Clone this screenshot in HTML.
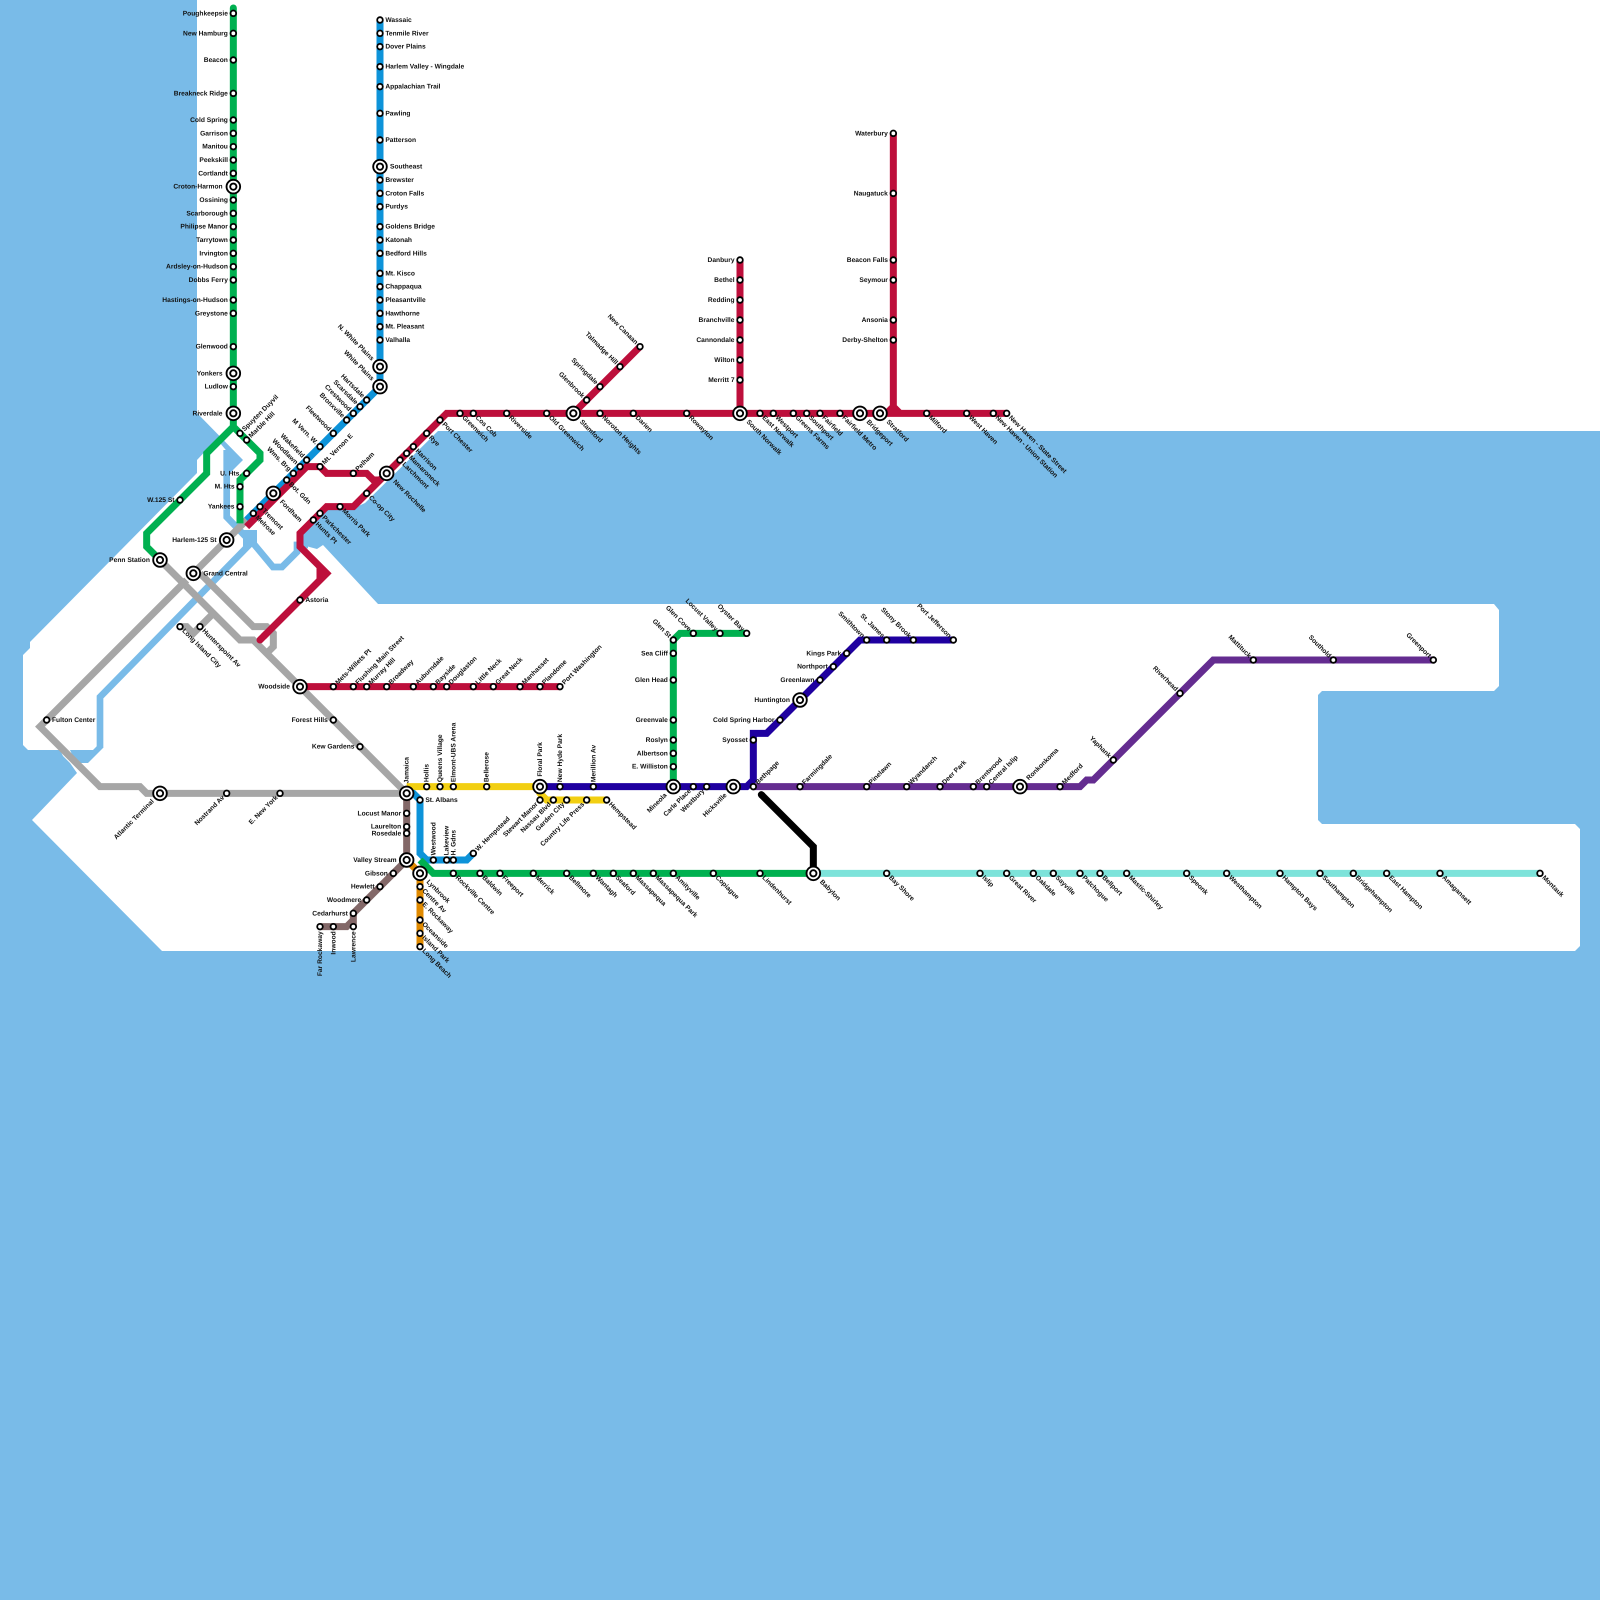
<!DOCTYPE html>
<html><head><meta charset="utf-8"><title>Metro map</title>
<style>
html,body{margin:0;padding:0;background:#79bbe8}
svg{display:block}
text{font-family:"Liberation Sans",sans-serif;font-weight:700;font-size:1px;fill:#111;text-rendering:geometricPrecision}
.e{text-anchor:end}
.ln{fill:none;stroke-width:1.05;stroke-linejoin:miter;stroke-miterlimit:6}
</style></head><body>
<svg xmlns="http://www.w3.org/2000/svg" width="1600" height="1600" viewBox="0 0 240 240">
<defs>
<circle id="s" r=".42" fill="#fff" stroke="#000" stroke-width=".27"/>
<g id="i"><circle r="1.02" fill="#fff" stroke="#000" stroke-width=".28"/><circle r=".47" fill="#fff" stroke="#000" stroke-width=".28"/></g>
</defs>
<rect width="240" height="240" fill="#79bbe8"/>
<g transform="scale(.15)">
<polygon fill="#fff" points="197,0 1600,0 1600,431 438,431 365,503 352,509 323,509 300,533 302,545 317,549 323,545 378,604 1494,604 1499,610 1499,686 1494,691 1322,691 1318,695 1318,820 1322,824 1575,824 1580,829 1580,946 1575,951 162,951 32,820 77,773 70,763 63,756 60,750 28,750 23,745 23,655 30,648 30,642 197,473 197,460 213,443 220,443 230,455 230,473 243,460 197,413"/>
<polygon fill="#79bbe8" points="70,750 93,750 97,746 103,748 88,763 76,763"/>
<polygon fill="#79bbe8" points="243,530 257,530 257,547 243,547"/>
<polyline fill="none" stroke="#79bbe8" stroke-width="6.67" points="100,748 100,697 250,544"/>
<polyline fill="none" stroke="#79bbe8" stroke-width="6.67" points="226.7,450 226.7,517 247,538"/>
<polyline fill="none" stroke="#79bbe8" stroke-width="6.67" points="253,543 273,567 282,567 297,552 297,545 308,545"/>
</g>
<!-- lines -->
<g class="ln">
<path stroke="#a6a6a6" d="M24 84L36 96H38L60 118L61 119M30 86L38 94H40L41 95V97L40 98M27 94H28L29 95L32 92M28 87L6 109L15 118H21L22 119H61M37 78L29 86M27 87L28 88"/>
<path stroke="#836868" d="M61 119V129L53 137V138L52 139H48M53 138V139"/>
<path stroke="#e08a00" d="M61 129L63 131V142"/>
<path stroke="#f2cf12" d="M61 118H81V119L82 120H91"/>
<path stroke="#0d93d9" d="M57 3V58L37 78M61 119H62L63 120V128L64 129H70L71 128"/>
<path stroke="#7de3da" d="M122 131H231"/>
<path stroke="#00b050" stroke-linecap="round" d="M35 1.2V2"/>
<path stroke="#00b050" d="M35 2V64L31 68V71L22 80V82L24 84M35 64L39 68V69L36 72V78.5M63 129L65 131H122M101 118V96L102 95H112"/>
<path stroke="#bd0f3b" d="M151 62H67L53 76H49L45 80V82L48 85L49 86L48 87L39.5 95.5M48 85V87M57 72H56L55 71H49L48 70H46L37 79M96 52L88 60L86 62M111 39V62M134 20V61L135 62M134 61L133 62M45 103H84"/>
<path stroke="#bd0f3b" stroke-linecap="round" d="M40 95L39 96"/>
<path stroke="#1f00a0" d="M81 118H112L113 117V110H115L129 96H143"/>
<path stroke="#642c90" d="M113 118H162L163 117H164L182 99H215"/>
<path stroke="#000" d="M114.2 119.2L122 127V131"/>
<path stroke="#000" stroke-linecap="round" d="M114.2 119.2L114.3 119.3"/>
</g>
<!-- stations -->
<g>
<use href="#s" x="35" y="2"/><use href="#s" x="35" y="5"/><use href="#s" x="35" y="9"/><use href="#s" x="35" y="14"/><use href="#s" x="35" y="18"/><use href="#s" x="35" y="20"/><use href="#s" x="35" y="22"/><use href="#s" x="35" y="24"/><use href="#s" x="35" y="26"/><use href="#i" x="35" y="28"/><use href="#s" x="35" y="30"/><use href="#s" x="35" y="32"/><use href="#s" x="35" y="34"/><use href="#s" x="35" y="36"/><use href="#s" x="35" y="38"/><use href="#s" x="35" y="40"/><use href="#s" x="35" y="42"/><use href="#s" x="35" y="45"/><use href="#s" x="35" y="47"/><use href="#s" x="35" y="52"/><use href="#i" x="35" y="56"/><use href="#s" x="35" y="58"/><use href="#i" x="35" y="62"/>
<use href="#s" x="36" y="65"/><use href="#s" x="37" y="66"/><use href="#s" x="37" y="71"/><use href="#s" x="36" y="73"/><use href="#s" x="36" y="76"/><use href="#s" x="27" y="75"/><use href="#i" x="34" y="81"/><use href="#i" x="24" y="84"/><use href="#i" x="29" y="86"/><use href="#s" x="45" y="90"/><use href="#s" x="27" y="94"/><use href="#s" x="30" y="94"/><use href="#s" x="7" y="108"/><use href="#i" x="45" y="103"/><use href="#s" x="50" y="108"/><use href="#s" x="54" y="112"/><use href="#i" x="24" y="119"/><use href="#s" x="34" y="119"/><use href="#s" x="42" y="119"/><use href="#i" x="61" y="119"/>
<use href="#s" x="57" y="3"/><use href="#s" x="57" y="5"/><use href="#s" x="57" y="7"/><use href="#s" x="57" y="10"/><use href="#s" x="57" y="13"/><use href="#s" x="57" y="17"/><use href="#s" x="57" y="21"/><use href="#i" x="57" y="25"/><use href="#s" x="57" y="27"/><use href="#s" x="57" y="29"/><use href="#s" x="57" y="31"/><use href="#s" x="57" y="34"/><use href="#s" x="57" y="36"/><use href="#s" x="57" y="38"/><use href="#s" x="57" y="41"/><use href="#s" x="57" y="43"/><use href="#s" x="57" y="45"/><use href="#s" x="57" y="47"/><use href="#s" x="57" y="49"/><use href="#s" x="57" y="51"/><use href="#i" x="57" y="55"/><use href="#i" x="57" y="58"/>
<use href="#s" x="55" y="60"/><use href="#s" x="54" y="61"/><use href="#s" x="53" y="62"/><use href="#s" x="52" y="63"/><use href="#s" x="50" y="65"/><use href="#s" x="48" y="67"/><use href="#s" x="46" y="69"/><use href="#s" x="45" y="70"/><use href="#s" x="44" y="71"/><use href="#s" x="43" y="72"/><use href="#i" x="41" y="74"/><use href="#s" x="39" y="76"/><use href="#s" x="38" y="77"/>
<use href="#s" x="48" y="70"/><use href="#s" x="53" y="71"/><use href="#i" x="58" y="71"/><use href="#s" x="55" y="74"/><use href="#s" x="51" y="76"/><use href="#s" x="48" y="77"/><use href="#s" x="47" y="78"/><use href="#s" x="60" y="69"/><use href="#s" x="61" y="68"/><use href="#s" x="62" y="67"/><use href="#s" x="64" y="65"/><use href="#s" x="66" y="63"/><use href="#s" x="69" y="62"/><use href="#s" x="71" y="62"/><use href="#s" x="76" y="62"/><use href="#s" x="82" y="62"/><use href="#i" x="86" y="62"/><use href="#s" x="90" y="62"/><use href="#s" x="95" y="62"/><use href="#s" x="103" y="62"/><use href="#i" x="111" y="62"/><use href="#s" x="114" y="62"/><use href="#s" x="116" y="62"/><use href="#s" x="119" y="62"/><use href="#s" x="121" y="62"/><use href="#s" x="123" y="62"/><use href="#s" x="126" y="62"/><use href="#i" x="129" y="62"/><use href="#i" x="132" y="62"/><use href="#s" x="139" y="62"/><use href="#s" x="145" y="62"/><use href="#s" x="149" y="62"/><use href="#s" x="151" y="62"/>
<use href="#s" x="88" y="60"/><use href="#s" x="90" y="58"/><use href="#s" x="93" y="55"/><use href="#s" x="96" y="52"/>
<use href="#s" x="111" y="39"/><use href="#s" x="111" y="42"/><use href="#s" x="111" y="45"/><use href="#s" x="111" y="48"/><use href="#s" x="111" y="51"/><use href="#s" x="111" y="54"/><use href="#s" x="111" y="57"/>
<use href="#s" x="134" y="20"/><use href="#s" x="134" y="29"/><use href="#s" x="134" y="39"/><use href="#s" x="134" y="42"/><use href="#s" x="134" y="48"/><use href="#s" x="134" y="51"/>
<use href="#s" x="50" y="103"/><use href="#s" x="53" y="103"/><use href="#s" x="55" y="103"/><use href="#s" x="58" y="103"/><use href="#s" x="62" y="103"/><use href="#s" x="65" y="103"/><use href="#s" x="67" y="103"/><use href="#s" x="71" y="103"/><use href="#s" x="74" y="103"/><use href="#s" x="78" y="103"/><use href="#s" x="81" y="103"/><use href="#s" x="84" y="103"/>
<use href="#s" x="64" y="118"/><use href="#s" x="66" y="118"/><use href="#s" x="68" y="118"/><use href="#s" x="73" y="118"/><use href="#i" x="81" y="118"/><use href="#s" x="84" y="118"/><use href="#s" x="89" y="118"/><use href="#i" x="101" y="118"/><use href="#s" x="104" y="118"/><use href="#s" x="106" y="118"/><use href="#i" x="110" y="118"/><use href="#s" x="113" y="118"/>
<use href="#s" x="63" y="120"/><use href="#s" x="61" y="122"/><use href="#s" x="61" y="124"/><use href="#s" x="61" y="125"/><use href="#i" x="61" y="129"/><use href="#s" x="65" y="129"/><use href="#s" x="67" y="129"/><use href="#s" x="68" y="129"/><use href="#s" x="71" y="128"/>
<use href="#i" x="63" y="131"/><use href="#s" x="63" y="133"/><use href="#s" x="63" y="135"/><use href="#s" x="63" y="138"/><use href="#s" x="63" y="140"/><use href="#s" x="63" y="142"/>
<use href="#s" x="68" y="131"/><use href="#s" x="72" y="131"/><use href="#s" x="75" y="131"/><use href="#s" x="80" y="131"/><use href="#s" x="85" y="131"/><use href="#s" x="89" y="131"/><use href="#s" x="92" y="131"/><use href="#s" x="95" y="131"/><use href="#s" x="98" y="131"/><use href="#s" x="101" y="131"/><use href="#s" x="107" y="131"/><use href="#s" x="114" y="131"/><use href="#i" x="122" y="131"/>
<use href="#s" x="133" y="131"/><use href="#s" x="147" y="131"/><use href="#s" x="151" y="131"/><use href="#s" x="155" y="131"/><use href="#s" x="158" y="131"/><use href="#s" x="162" y="131"/><use href="#s" x="165" y="131"/><use href="#s" x="169" y="131"/><use href="#s" x="178" y="131"/><use href="#s" x="184" y="131"/><use href="#s" x="192" y="131"/><use href="#s" x="198" y="131"/><use href="#s" x="203" y="131"/><use href="#s" x="208" y="131"/><use href="#s" x="216" y="131"/><use href="#s" x="231" y="131"/>
<use href="#s" x="81" y="120"/><use href="#s" x="83" y="120"/><use href="#s" x="85" y="120"/><use href="#s" x="88" y="120"/><use href="#s" x="91" y="120"/>
<use href="#s" x="59" y="131"/><use href="#s" x="57" y="133"/><use href="#s" x="55" y="135"/><use href="#s" x="53" y="137"/><use href="#s" x="53" y="139"/><use href="#s" x="50" y="139"/><use href="#s" x="48" y="139"/>
<use href="#s" x="101" y="96"/><use href="#s" x="101" y="98"/><use href="#s" x="101" y="102"/><use href="#s" x="101" y="108"/><use href="#s" x="101" y="111"/><use href="#s" x="101" y="113"/><use href="#s" x="101" y="115"/><use href="#s" x="104" y="95"/><use href="#s" x="108" y="95"/><use href="#s" x="112" y="95"/>
<use href="#s" x="113" y="111"/><use href="#s" x="117" y="108"/><use href="#i" x="120" y="105"/><use href="#s" x="123" y="102"/><use href="#s" x="125" y="100"/><use href="#s" x="127" y="98"/><use href="#s" x="130" y="96"/><use href="#s" x="133" y="96"/><use href="#s" x="137" y="96"/><use href="#s" x="143" y="96"/>
<use href="#s" x="120" y="118"/><use href="#s" x="130" y="118"/><use href="#s" x="136" y="118"/><use href="#s" x="141" y="118"/><use href="#s" x="146" y="118"/><use href="#s" x="148" y="118"/><use href="#i" x="153" y="118"/><use href="#s" x="159" y="118"/><use href="#s" x="167" y="114"/><use href="#s" x="177" y="104"/><use href="#s" x="188" y="99"/><use href="#s" x="200" y="99"/><use href="#s" x="215" y="99"/>
</g>
<!-- labels -->
<g>
<text dy=".3" class="e" x="34.2" y="2">Poughkeepsie</text><text dy=".3" class="e" x="34.2" y="5">New Hamburg</text><text dy=".3" class="e" x="34.2" y="9">Beacon</text><text dy=".3" class="e" x="34.2" y="14">Breakneck Ridge</text><text dy=".3" class="e" x="34.2" y="18">Cold Spring</text><text dy=".3" class="e" x="34.2" y="20">Garrison</text><text dy=".3" class="e" x="34.2" y="22">Manitou</text><text dy=".3" class="e" x="34.2" y="24">Peekskill</text><text dy=".3" class="e" x="34.2" y="26">Cortlandt</text><text dy=".3" class="e" x="33.4" y="28">Croton-Harmon</text><text dy=".3" class="e" x="34.2" y="30">Ossining</text><text dy=".3" class="e" x="34.2" y="32">Scarborough</text><text dy=".3" class="e" x="34.2" y="34">Philipse Manor</text><text dy=".3" class="e" x="34.2" y="36">Tarrytown</text><text dy=".3" class="e" x="34.2" y="38">Irvington</text><text dy=".3" class="e" x="34.2" y="40">Ardsley-on-Hudson</text><text dy=".3" class="e" x="34.2" y="42">Dobbs Ferry</text><text dy=".3" class="e" x="34.2" y="45">Hastings-on-Hudson</text><text dy=".3" class="e" x="34.2" y="47">Greystone</text><text dy=".3" class="e" x="34.2" y="52">Glenwood</text><text dy=".3" class="e" x="33.4" y="56">Yonkers</text><text dy=".3" class="e" x="34.2" y="58">Ludlow</text><text dy=".3" class="e" x="33.4" y="62">Riverdale</text>
<text dy=".3" class="e" x="36.2" y="71">U. Hts.</text><text dy=".3" class="e" x="35.2" y="73">M. Hts</text><text dy=".3" class="e" x="35.2" y="76">Yankees</text><text dy=".3" class="e" x="26.2" y="75">W.125 St</text><text dy=".3" class="e" x="32.5" y="81">Harlem-125 St</text><text dy=".3" class="e" x="22.5" y="84">Penn Station</text><text dy=".3" x="30.5" y="86">Grand Central</text><text dy=".3" x="45.8" y="90">Astoria</text><text dy=".3" x="7.8" y="108">Fulton Center</text><text dy=".3" class="e" x="43.5" y="103">Woodside</text><text dy=".3" class="e" x="49.2" y="108">Forest Hills</text><text dy=".3" class="e" x="53.2" y="112">Kew Gardens</text>
<text dy=".3" x="57.8" y="3">Wassaic</text><text dy=".3" x="57.8" y="5">Tenmile River</text><text dy=".3" x="57.8" y="7">Dover Plains</text><text dy=".3" x="57.8" y="10">Harlem Valley - Wingdale</text><text dy=".3" x="57.8" y="13">Appalachian Trail</text><text dy=".3" x="57.8" y="17">Pawling</text><text dy=".3" x="57.8" y="21">Patterson</text><text dy=".3" x="58.5" y="25">Southeast</text><text dy=".3" x="57.8" y="27">Brewster</text><text dy=".3" x="57.8" y="29">Croton Falls</text><text dy=".3" x="57.8" y="31">Purdys</text><text dy=".3" x="57.8" y="34">Goldens Bridge</text><text dy=".3" x="57.8" y="36">Katonah</text><text dy=".3" x="57.8" y="38">Bedford Hills</text><text dy=".3" x="57.8" y="41">Mt. Kisco</text><text dy=".3" x="57.8" y="43">Chappaqua</text><text dy=".3" x="57.8" y="45">Pleasantville</text><text dy=".3" x="57.8" y="47">Hawthorne</text><text dy=".3" x="57.8" y="49">Mt. Pleasant</text><text dy=".3" x="57.8" y="51">Valhalla</text>
<text dy=".3" class="e" transform="translate(57 55)rotate(45)" x="-1.5">N. White Plains</text><text dy=".3" class="e" transform="translate(57 58)rotate(45)" x="-1.5">White Plains</text><text dy=".3" class="e" transform="translate(55 60)rotate(45)" x="-.7">Hartsdale</text><text dy=".3" class="e" transform="translate(54 61)rotate(45)" x="-.7">Scarsdale</text><text dy=".3" class="e" transform="translate(53 62)rotate(45)" x="-.7">Crestwood</text><text dy=".3" class="e" transform="translate(52 63)rotate(45)" x="-.7">Bronxville</text><text dy=".3" class="e" transform="translate(50 65)rotate(45)" x="-.7">Fleetwood</text><text dy=".3" class="e" transform="translate(48 67)rotate(45)" x="-.7">M Vern. W.</text><text dy=".3" class="e" transform="translate(46 69)rotate(45)" x="-.7">Wakefield</text><text dy=".3" class="e" transform="translate(45 70)rotate(45)" x="-.7">Woodlawn</text><text dy=".3" class="e" transform="translate(44 71)rotate(45)" x="-.7">Wms. Brg</text>
<text dy=".3" transform="translate(43 72)rotate(45)" x=".7">Bot. Gdn</text><text dy=".3" transform="translate(41 74)rotate(45)" x="1.6">Fordham</text><text dy=".3" transform="translate(39 76)rotate(45)" x=".7">Tremont</text><text dy=".3" transform="translate(38 77)rotate(45)" x=".7">Melrose</text>
<text dy=".3" transform="translate(36 65)rotate(-45)" x=".7">Spuyten Duyvil</text><text dy=".3" transform="translate(37 66)rotate(-45)" x=".7">Marble Hill</text><text dy=".3" transform="translate(48 70)rotate(-45)" x=".7">Mt. Vernon E</text><text dy=".3" transform="translate(53 71)rotate(-45)" x=".7">Pelham</text>
<text dy=".3" transform="translate(27 94)rotate(45)" x=".7">Long Island City</text><text dy=".3" transform="translate(30 94)rotate(45)" x=".7">Hunterspoint Av</text>
<text dy=".3" class="e" transform="translate(24 119)rotate(-45)" x="-1.5">Atlantic Terminal</text><text dy=".3" class="e" transform="translate(34 119)rotate(-45)" x="-.7">Nostrand Av</text><text dy=".3" class="e" transform="translate(42 119)rotate(-45)" x="-.7">E. New York</text>
<text dy=".3" transform="translate(58 71)rotate(45)" x="1.6">New Rochelle</text><text dy=".3" transform="translate(55 74)rotate(45)" x=".7">Co-op City</text><text dy=".3" transform="translate(51 76)rotate(45)" x=".7">Morris Park</text><text dy=".3" transform="translate(48 77)rotate(45)" x=".7">Parkchester</text><text dy=".3" transform="translate(47 78)rotate(45)" x=".7">Hunts Pt</text><text dy=".3" transform="translate(60 69)rotate(45)" x=".7">Larchmont</text><text dy=".3" transform="translate(61 68)rotate(45)" x=".7">Mamaroneck</text><text dy=".3" transform="translate(62 67)rotate(45)" x=".7">Harrison</text><text dy=".3" transform="translate(64 65)rotate(45)" x=".7">Rye</text><text dy=".3" transform="translate(66 63)rotate(45)" x=".7">Port Chester</text><text dy=".3" transform="translate(69 62)rotate(45)" x=".7">Greenwich</text><text dy=".3" transform="translate(71 62)rotate(45)" x=".7">Cos Cob</text><text dy=".3" transform="translate(76 62)rotate(45)" x=".7">Riverside</text><text dy=".3" transform="translate(82 62)rotate(45)" x=".7">Old Greenwich</text><text dy=".3" transform="translate(86 62)rotate(45)" x="1.6">Stamford</text><text dy=".3" transform="translate(90 62)rotate(45)" x=".7">Noroton Heights</text><text dy=".3" transform="translate(95 62)rotate(45)" x=".7">Darien</text><text dy=".3" transform="translate(103 62)rotate(45)" x=".7">Rowayton</text><text dy=".3" transform="translate(111 62)rotate(45)" x="1.6">South Norwalk</text><text dy=".3" transform="translate(114 62)rotate(45)" x=".7">East Norwalk</text><text dy=".3" transform="translate(116 62)rotate(45)" x=".7">Westport</text><text dy=".3" transform="translate(119 62)rotate(45)" x=".7">Greens Farms</text><text dy=".3" transform="translate(121 62)rotate(45)" x=".7">Southport</text><text dy=".3" transform="translate(123 62)rotate(45)" x=".7">Fairfield</text><text dy=".3" transform="translate(126 62)rotate(45)" x=".7">Fairfield Metro</text><text dy=".3" transform="translate(129 62)rotate(45)" x="1.6">Bridgeport</text><text dy=".3" transform="translate(132 62)rotate(45)" x="1.6">Stratford</text><text dy=".3" transform="translate(139 62)rotate(45)" x=".7">Milford</text><text dy=".3" transform="translate(145 62)rotate(45)" x=".7">West Haven</text><text dy=".3" transform="translate(149 62)rotate(45)" x=".7">New Haven - Union Station</text><text dy=".3" transform="translate(151 62)rotate(45)" x=".7">New Haven - State Street</text>
<text dy=".3" class="e" transform="translate(88 60)rotate(45)" x="-.7">Glenbrook</text><text dy=".3" class="e" transform="translate(90 58)rotate(45)" x="-.7">Springdale</text><text dy=".3" class="e" transform="translate(93 55)rotate(45)" x="-.7">Talmadge Hill</text><text dy=".3" class="e" transform="translate(96 52)rotate(45)" x="-.7">New Canaan</text>
<text dy=".3" class="e" x="110.2" y="39">Danbury</text><text dy=".3" class="e" x="110.2" y="42">Bethel</text><text dy=".3" class="e" x="110.2" y="45">Redding</text><text dy=".3" class="e" x="110.2" y="48">Branchville</text><text dy=".3" class="e" x="110.2" y="51">Cannondale</text><text dy=".3" class="e" x="110.2" y="54">Wilton</text><text dy=".3" class="e" x="110.2" y="57">Merritt 7</text>
<text dy=".3" class="e" x="133.2" y="20">Waterbury</text><text dy=".3" class="e" x="133.2" y="29">Naugatuck</text><text dy=".3" class="e" x="133.2" y="39">Beacon Falls</text><text dy=".3" class="e" x="133.2" y="42">Seymour</text><text dy=".3" class="e" x="133.2" y="48">Ansonia</text><text dy=".3" class="e" x="133.2" y="51">Derby-Shelton</text>
<text dy=".3" transform="translate(50 103)rotate(-45)" x=".7">Mets-Willets Pt</text><text dy=".3" transform="translate(53 103)rotate(-45)" x=".7">Flushing Main Street</text><text dy=".3" transform="translate(55 103)rotate(-45)" x=".7">Murray Hill</text><text dy=".3" transform="translate(58 103)rotate(-45)" x=".7">Broadway</text><text dy=".3" transform="translate(62 103)rotate(-45)" x=".7">Auburndale</text><text dy=".3" transform="translate(65 103)rotate(-45)" x=".7">Bayside</text><text dy=".3" transform="translate(67 103)rotate(-45)" x=".7">Douglaston</text><text dy=".3" transform="translate(71 103)rotate(-45)" x=".7">Little Neck</text><text dy=".3" transform="translate(74 103)rotate(-45)" x=".7">Great Neck</text><text dy=".3" transform="translate(78 103)rotate(-45)" x=".7">Manhasset</text><text dy=".3" transform="translate(81 103)rotate(-45)" x=".7">Plandome</text><text dy=".3" transform="translate(84 103)rotate(-45)" x=".7">Port Washington</text>
<text dy=".3" transform="translate(61 119)rotate(-90)" x="1.5">Jamaica</text><text dy=".3" transform="translate(64 118)rotate(-90)" x=".7">Hollis</text><text dy=".3" transform="translate(66 118)rotate(-90)" x=".7">Queens Village</text><text dy=".3" transform="translate(68 118)rotate(-90)" x=".7">Elmont-UBS Arena</text><text dy=".3" transform="translate(73 118)rotate(-90)" x=".7">Bellerose</text><text dy=".3" transform="translate(81 118)rotate(-90)" x="1.5">Floral Park</text><text dy=".3" transform="translate(84 118)rotate(-90)" x=".7">New Hyde Park</text><text dy=".3" transform="translate(89 118)rotate(-90)" x=".7">Merillion Av</text>
<text dy=".3" x="63.8" y="120">St. Albans</text><text dy=".3" class="e" x="60.2" y="122">Locust Manor</text><text dy=".3" class="e" x="60.2" y="124">Laurelton</text><text dy=".3" class="e" x="60.2" y="125">Rosedale</text><text dy=".3" class="e" x="59.5" y="129">Valley Stream</text><text dy=".3" class="e" x="58.2" y="131">Gibson</text><text dy=".3" class="e" x="56.2" y="133">Hewlett</text><text dy=".3" class="e" x="54.2" y="135">Woodmere</text><text dy=".3" class="e" x="52.2" y="137">Cedarhurst</text>
<text dy=".3" class="e" transform="translate(53 139)rotate(-90)" x="-.7">Lawrence</text><text dy=".3" class="e" transform="translate(50 139)rotate(-90)" x="-.7">Inwood</text><text dy=".3" class="e" transform="translate(48 139)rotate(-90)" x="-.7">Far Rockaway</text>
<text dy=".3" transform="translate(65 129)rotate(-90)" x=".7">Westwood</text><text dy=".3" transform="translate(67 129)rotate(-90)" x=".7">Lakeview</text><text dy=".3" transform="translate(68 129)rotate(-90)" x=".7">H. Gdns</text><text dy=".3" transform="translate(71 128)rotate(-45)" x=".7">W. Hempstead</text>
<text dy=".3" transform="translate(63 131)rotate(45)" x="1.6">Lynbrook</text><text dy=".3" transform="translate(63 133)rotate(45)" x=".7">Centre Av</text><text dy=".3" transform="translate(63 135)rotate(45)" x=".7">E. Rockaway</text><text dy=".3" transform="translate(63 138)rotate(45)" x=".7">Oceanside</text><text dy=".3" transform="translate(63 140)rotate(45)" x=".7">Island Park</text><text dy=".3" transform="translate(63 142)rotate(45)" x=".7">Long Beach</text>
<text dy=".3" transform="translate(68 131)rotate(45)" x=".7">Rockville Centre</text><text dy=".3" transform="translate(72 131)rotate(45)" x=".7">Baldwin</text><text dy=".3" transform="translate(75 131)rotate(45)" x=".7">Freeport</text><text dy=".3" transform="translate(80 131)rotate(45)" x=".7">Merrick</text><text dy=".3" transform="translate(85 131)rotate(45)" x=".7">Bellmore</text><text dy=".3" transform="translate(89 131)rotate(45)" x=".7">Wantagh</text><text dy=".3" transform="translate(92 131)rotate(45)" x=".7">Seaford</text><text dy=".3" transform="translate(95 131)rotate(45)" x=".7">Massapequa</text><text dy=".3" transform="translate(98 131)rotate(45)" x=".7">Massapequa Park</text><text dy=".3" transform="translate(101 131)rotate(45)" x=".7">Amityville</text><text dy=".3" transform="translate(107 131)rotate(45)" x=".7">Copiague</text><text dy=".3" transform="translate(114 131)rotate(45)" x=".7">Lindenhurst</text><text dy=".3" transform="translate(122 131)rotate(45)" x="1.6">Babylon</text><text dy=".3" transform="translate(133 131)rotate(45)" x=".7">Bay Shore</text><text dy=".3" transform="translate(147 131)rotate(45)" x=".7">Islip</text><text dy=".3" transform="translate(151 131)rotate(45)" x=".7">Great River</text><text dy=".3" transform="translate(155 131)rotate(45)" x=".7">Oakdale</text><text dy=".3" transform="translate(158 131)rotate(45)" x=".7">Sayville</text><text dy=".3" transform="translate(162 131)rotate(45)" x=".7">Patchogue</text><text dy=".3" transform="translate(165 131)rotate(45)" x=".7">Bellport</text><text dy=".3" transform="translate(169 131)rotate(45)" x=".7">Mastic-Shirley</text><text dy=".3" transform="translate(178 131)rotate(45)" x=".7">Speonk</text><text dy=".3" transform="translate(184 131)rotate(45)" x=".7">Westhampton</text><text dy=".3" transform="translate(192 131)rotate(45)" x=".7">Hampton Bays</text><text dy=".3" transform="translate(198 131)rotate(45)" x=".7">Southampton</text><text dy=".3" transform="translate(203 131)rotate(45)" x=".7">Bridgehampton</text><text dy=".3" transform="translate(208 131)rotate(45)" x=".7">East Hampton</text><text dy=".3" transform="translate(216 131)rotate(45)" x=".7">Amagansett</text><text dy=".3" transform="translate(231 131)rotate(45)" x=".7">Montauk</text>
<text dy=".3" class="e" transform="translate(81 120)rotate(-45)" x="-.7">Stewart Manor</text><text dy=".3" class="e" transform="translate(83 120)rotate(-45)" x="-.7">Nassau Blvd</text><text dy=".3" class="e" transform="translate(85 120)rotate(-45)" x="-.7">Garden City</text><text dy=".3" class="e" transform="translate(88 120)rotate(-45)" x="-.7">Country Life Press</text><text dy=".3" transform="translate(91 120)rotate(45)" x=".7">Hempstead</text>
<text dy=".3" class="e" transform="translate(101 118)rotate(-45)" x="-1.6">Mineola</text><text dy=".3" class="e" transform="translate(104 118)rotate(-45)" x="-.7">Carle Place</text><text dy=".3" class="e" transform="translate(106 118)rotate(-45)" x="-.7">Westbury</text><text dy=".3" class="e" transform="translate(110 118)rotate(-45)" x="-1.6">Hicksville</text><text dy=".3" transform="translate(113 118)rotate(-45)" x=".7">Bethpage</text>
<text dy=".3" class="e" transform="translate(101 96)rotate(45)" x="-.7">Glen St</text><text dy=".3" class="e" transform="translate(104 95)rotate(45)" x="-.7">Glen Cove</text><text dy=".3" class="e" transform="translate(108 95)rotate(45)" x="-.7">Locust Valley</text><text dy=".3" class="e" transform="translate(112 95)rotate(45)" x="-.7">Oyster Bay</text>
<text dy=".3" class="e" x="100.2" y="98">Sea Cliff</text><text dy=".3" class="e" x="100.2" y="102">Glen Head</text><text dy=".3" class="e" x="100.2" y="108">Greenvale</text><text dy=".3" class="e" x="100.2" y="111">Roslyn</text><text dy=".3" class="e" x="100.2" y="113">Albertson</text><text dy=".3" class="e" x="100.2" y="115">E. Williston</text>
<text dy=".3" class="e" x="112.2" y="111">Syosset</text><text dy=".3" class="e" x="116.2" y="108">Cold Spring Harbor</text><text dy=".3" class="e" x="118.5" y="105">Huntington</text><text dy=".3" class="e" x="122.2" y="102">Greenlawn</text><text dy=".3" class="e" x="124.2" y="100">Northport</text><text dy=".3" class="e" x="126.2" y="98">Kings Park</text>
<text dy=".3" class="e" transform="translate(130 96)rotate(45)" x="-.7">Smithtown</text><text dy=".3" class="e" transform="translate(133 96)rotate(45)" x="-.7">St. James</text><text dy=".3" class="e" transform="translate(137 96)rotate(45)" x="-.7">Stony Brook</text><text dy=".3" class="e" transform="translate(143 96)rotate(45)" x="-.7">Port Jefferson</text>
<text dy=".3" transform="translate(120 118)rotate(-45)" x=".7">Farmingdale</text><text dy=".3" transform="translate(130 118)rotate(-45)" x=".7">Pinelawn</text><text dy=".3" transform="translate(136 118)rotate(-45)" x=".7">Wyandanch</text><text dy=".3" transform="translate(141 118)rotate(-45)" x=".7">Deer Park</text><text dy=".3" transform="translate(146 118)rotate(-45)" x=".7">Brentwood</text><text dy=".3" transform="translate(148 118)rotate(-45)" x=".7">Central Islip</text><text dy=".3" transform="translate(153 118)rotate(-45)" x="1.6">Ronkonkoma</text><text dy=".3" transform="translate(159 118)rotate(-45)" x=".7">Medford</text>
<text dy=".3" class="e" transform="translate(167 114)rotate(45)" x="-.7">Yaphank</text><text dy=".3" class="e" transform="translate(177 104)rotate(45)" x="-.7">Riverhead</text><text dy=".3" class="e" transform="translate(188 99)rotate(45)" x="-.7">Mattituck</text><text dy=".3" class="e" transform="translate(200 99)rotate(45)" x="-.7">Southold</text><text dy=".3" class="e" transform="translate(215 99)rotate(45)" x="-.7">Greenport</text>
</g>
</svg>
</body></html>
